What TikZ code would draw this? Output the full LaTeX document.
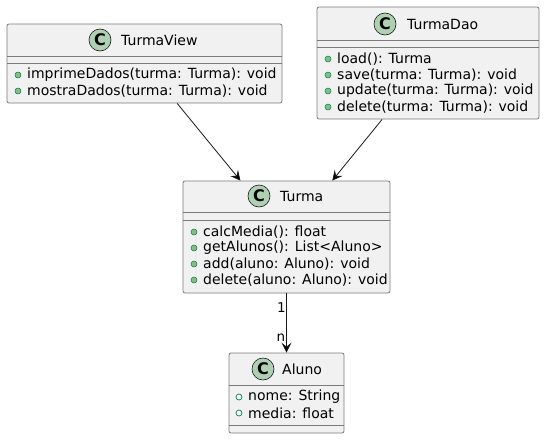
\documentclass[tikz,border=0pt]{standalone}
\usepackage{fontspec}
\setmainfont{DejaVu Sans}
\usetikzlibrary{arrows.meta}

\definecolor{boxfill}{HTML}{F1F1F1}
\definecolor{boxline}{HTML}{7A7A7A}
\definecolor{spotfill}{HTML}{ADD1B2}
\definecolor{dotfill}{HTML}{84BE84}
\definecolor{dotline}{HTML}{038048}
\definecolor{edgeline}{HTML}{181818}

\tikzset{
  classbox/.style={draw=boxline,fill=boxfill,rounded corners=2pt,line width=0.8pt,inner sep=0pt},
  divider/.style={draw=boxline,line width=0.8pt},
  spot/.style={shape=circle,draw=edgeline,fill=spotfill,minimum size=22pt,inner sep=0pt,line width=0.6pt,font=\fontsize{16}{16}\selectfont\bfseries},
  title/.style={anchor=west,inner sep=0pt,font=\fontsize{14}{16}\selectfont},
  member/.style={anchor=west,inner sep=0pt,font=\fontsize{14}{16}\selectfont},
  method/.style={shape=circle,draw=dotline,fill=dotfill,minimum size=6pt,inner sep=0pt,line width=0.5pt},
  field/.style={shape=circle,draw=dotline,fill=white,minimum size=6pt,inner sep=0pt,line width=0.7pt},
  assoc/.style={draw=edgeline,line width=0.8pt,-{Stealth[length=10pt,width=10pt,inset=4pt]}},
  mult/.style={inner sep=0pt,font=\fontsize{13.5}{13.5}\selectfont}
}

\begin{document}
\begin{tikzpicture}[x=1pt,y=-1pt]
\useasboundingbox (0,0) rectangle (545,439);

% TurmaView
\node[classbox,minimum width=275pt,minimum height=79pt] (turmaview) at (144.5,63.5) {};
\node[spot] (turmaviewC) at (100,40) {C};
\node[title] (turmaviewT) at (121,40) {TurmaView};
\draw[divider] (7,56) -- (282,56);
\draw[divider] (7,63) -- (282,63);
\node[method] (tv1d) at (18,75) {};
\node[member] (tv1) at (27,75) {imprimeDados(turma: Turma): void};
\node[method] (tv2d) at (18,91) {};
\node[member] (tv2) at (27,91) {mostraDados(turma: Turma): void};

% TurmaDao
\node[classbox,minimum width=222pt,minimum height=112pt] (turmadao) at (428,63) {};
\node[spot] (turmadaoC) at (385,24) {C};
\node[title] (turmadaoT) at (407,24) {TurmaDao};
\draw[divider] (317,40) -- (539,40);
\draw[divider] (317,47) -- (539,47);
\node[method] (td1d) at (328,59) {};
\node[member] (td1) at (337,59) {load(): Turma};
\node[method] (td2d) at (328,75) {};
\node[member] (td2) at (337,75) {save(turma: Turma): void};
\node[method] (td3d) at (328,91) {};
\node[member] (td3) at (337,91) {update(turma: Turma): void};
\node[method] (td4d) at (328,107) {};
\node[member] (td4) at (337,107) {delete(turma: Turma): void};

% Turma
\node[classbox,minimum width=207pt,minimum height=112pt] (turma) at (286.5,237) {};
\node[spot] (turmaC) at (259,196) {C};
\node[title] (turmaT) at (280,196) {Turma};
\draw[divider] (183,212) -- (390,212);
\draw[divider] (183,220) -- (390,220);
\node[method] (t1d) at (194,232) {};
\node[member] (t1) at (203,232) {calcMedia(): float};
\node[method] (t2d) at (194,248) {};
\node[member] (t2) at (203,248) {getAlunos(): List<Aluno>};
\node[method] (t3d) at (194,264) {};
\node[member] (t3) at (203,264) {add(aluno: Aluno): void};
\node[method] (t4d) at (194,280) {};
\node[member] (t4) at (203,280) {delete(aluno: Aluno): void};

% Aluno
\node[classbox,minimum width=115pt,minimum height=80pt] (aluno) at (286.5,393) {};
\node[spot] (alunoC) at (263,369) {C};
\node[title] (alunoT) at (282,369) {Aluno};
\draw[divider] (229,385) -- (344,385);
\draw[divider] (229,425) -- (344,425);
\node[field] (a1d) at (239,397) {};
\node[member] (a1) at (248,397) {nome: String};
\node[field] (a2d) at (239,413) {};
\node[member] (a2) at (248,413) {media: float};

\path[assoc] (turmaview) edge (turma);
\path[assoc] (turmadao) edge (turma);
\path[assoc] (turma) edge (aluno);
\node[mult] (one) at (281.5,308) {1};
\node[mult] (many) at (281,338) {n};
\end{tikzpicture}
\end{document}
